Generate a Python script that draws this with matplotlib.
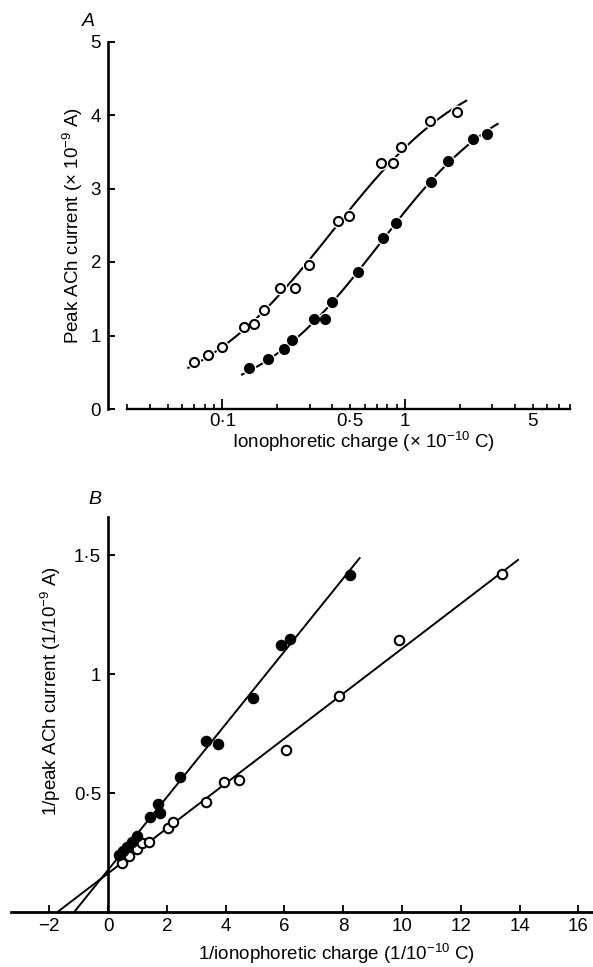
import numpy as np
import matplotlib
matplotlib.use('Agg')
import matplotlib.pyplot as plt

plt.rcParams['font.family'] = ['Liberation Sans', 'DejaVu Sans']
plt.rcParams['mathtext.fontset'] = 'custom'
plt.rcParams['mathtext.rm'] = 'Liberation Sans'
plt.rcParams['mathtext.it'] = 'Liberation Sans:italic'

# A: peak ACh current vs ionophoretic charge (log x)
a_open_x = [0.070, 0.083, 0.0995, 0.132, 0.149, 0.169, 0.206, 0.250, 0.298,
            0.429, 0.496, 0.739, 0.859, 0.955, 1.37, 1.93]
a_open_y = [0.64, 0.73, 0.84, 1.12, 1.15, 1.35, 1.64, 1.65, 1.96,
            2.56, 2.62, 3.35, 3.35, 3.56, 3.92, 4.04]
a_fill_x = [0.139, 0.178, 0.216, 0.241, 0.318, 0.363, 0.396, 0.555, 0.757,
            0.887, 1.38, 1.72, 2.36, 2.81]
a_fill_y = [0.56, 0.68, 0.82, 0.94, 1.22, 1.22, 1.45, 1.87, 2.32,
            2.53, 3.09, 3.38, 3.68, 3.74]
a_open_span = (0.065, 2.16)
a_fill_span = (0.128, 3.21)

# B: double reciprocal plot
b_open_x = [0.47, 0.72, 0.98, 1.14, 1.41, 2.05, 2.22, 3.33, 3.94, 4.44,
            6.04, 7.87, 9.89, 13.4]
b_open_y = [0.207, 0.235, 0.265, 0.288, 0.295, 0.352, 0.379, 0.464, 0.548,
            0.555, 0.681, 0.908, 1.143, 1.42]
b_fill_x = [0.39, 0.50, 0.63, 0.80, 1.00, 1.43, 1.71, 1.77, 2.45, 3.35,
            3.75, 4.94, 5.89, 6.18, 8.24]
b_fill_y = [0.24, 0.258, 0.274, 0.295, 0.319, 0.40, 0.454, 0.415, 0.569,
            0.72, 0.707, 0.898, 1.122, 1.148, 1.415]
b_open_end = 13.95
b_fill_end = 8.56


def hill_fit(x, y):
    # least squares Hill curve, Imax solved directly for each (K, n)
    x = np.asarray(x)
    y = np.asarray(y)
    best = None
    for n in np.linspace(0.8, 2.0, 61):
        for K in np.logspace(-1.2, 0.6, 181):
            r = x**n / (x**n + K**n)
            imax = (r @ y) / (r @ r)
            err = ((imax * r - y)**2).sum()
            if best is None or err < best[0]:
                best = (err, imax, K, n)
    return best[1:]


fig = plt.figure(figsize=(5.93, 9.67), dpi=100)
fs_tick = 13.5
fs_lab = 13.5

# ---------------- A ----------------
ax = fig.add_axes([127/593, 1 - 409/967, 443/593, 367.5/967])
for xs, ys, span, face in [(a_open_x, a_open_y, a_open_span, 'white'),
                           (a_fill_x, a_fill_y, a_fill_span, 'black')]:
    imax, K, n = hill_fit(xs, ys)
    xx = np.logspace(np.log10(span[0]), np.log10(span[1]), 200)
    ax.plot(xx, imax * xx**n / (xx**n + K**n), color='black', lw=1.5, zorder=2)
    ax.plot(xs, ys, 'o', ms=10, mfc='white', mec='none', zorder=3)
    ax.plot(xs, ys, 'o', ms=6.5, mfc=face, mec='black', mew=1.5, zorder=4)

ax.set_xscale('log')
ax.set_xlim(0.0324, 8.0)
ax.set_ylim(0, 5)
ax.spines['top'].set_visible(False)
ax.spines['right'].set_visible(False)
ax.spines['left'].set_position(('outward', 13.7))
ax.spines['left'].set_linewidth(1.9)
ax.spines['bottom'].set_linewidth(1.7)

minor = [0.03, 0.04, 0.05, 0.06, 0.07, 0.08, 0.09,
         0.2, 0.3, 0.4, 0.5, 0.6, 0.7, 0.8, 0.9,
         2, 3, 4, 5, 6, 7, 8]
minor_lab = ['0·5' if v == 0.5 else '5' if v == 5 else '' for v in minor]
ax.set_xticks([0.1, 1], labels=['0·1', '1'])
ax.set_xticks(minor, labels=minor_lab, minor=True)
ax.set_yticks([0, 1, 2, 3, 4, 5], labels=['0', '1', '2', '3', '4', '5'])
ax.tick_params(axis='x', which='major', direction='in', length=7, width=1.3,
               labelsize=fs_tick, pad=3)
ax.tick_params(axis='x', which='minor', direction='in', length=3.5, width=1.2,
               labelsize=fs_tick, pad=3)
ax.tick_params(axis='y', direction='in', length=5, width=1.4, labelsize=fs_tick, pad=5)

ax.set_xlabel(r'Ionophoretic charge (× 10$^{-10}$ C)', fontsize=fs_lab)
ax.xaxis.set_label_coords(0.533, -0.058)
ax.set_ylabel(r'Peak ACh current (× 10$^{-9}$ A)', fontsize=fs_lab)
ax.yaxis.set_label_coords(-0.095, 0.5)
fig.text(88/593, 1 - 22/967, 'A', fontsize=14, style='italic', ha='center', va='center')

# ---------------- B ----------------
bx = fig.add_axes([11/593, 1 - 912/967, 582/593, 395/967])
for xs, ys, end, face in [(b_open_x, b_open_y, b_open_end, 'white'),
                          (b_fill_x, b_fill_y, b_fill_end, 'black')]:
    m, b = np.polyfit(xs, ys, 1)
    xx = np.array([-b / m, end])
    bx.plot(xx, m * xx + b, color='black', lw=1.4, zorder=2)
    bx.plot(xs, ys, 'o', ms=6.8, mfc=face, mec='black', mew=1.5, zorder=4)

bx.set_xlim(-3.3, 16.5)
bx.set_ylim(0, 1.66)
bx.spines['top'].set_visible(False)
bx.spines['right'].set_visible(False)
bx.spines['left'].set_position(('data', 0))
bx.spines['left'].set_linewidth(1.9)
bx.spines['bottom'].set_linewidth(2.0)
bx.set_xticks(range(-2, 17, 2), labels=['−2'] + [str(v) for v in range(0, 17, 2)])
bx.set_yticks([0.5, 1, 1.5], labels=['0·5', '1', '1·5'])
bx.tick_params(axis='x', direction='in', length=5, width=1.3, labelsize=fs_tick, pad=4)
bx.tick_params(axis='y', direction='in', length=5, width=1.4, labelsize=fs_tick, pad=5)

bx.set_xlabel(r'1/ionophoretic charge (1/10$^{-10}$ C)', fontsize=fs_lab)
bx.xaxis.set_label_coords(0.56, -0.075)
bx.set_ylabel(r'1/peak ACh current (1/10$^{-9}$ A)', fontsize=fs_lab)
bx.yaxis.set_label_coords(0.09, 0.56)
fig.text(95/593, 1 - 500/967, 'B', fontsize=14, style='italic', ha='center', va='center')

fig.savefig('out.png', dpi=100)
